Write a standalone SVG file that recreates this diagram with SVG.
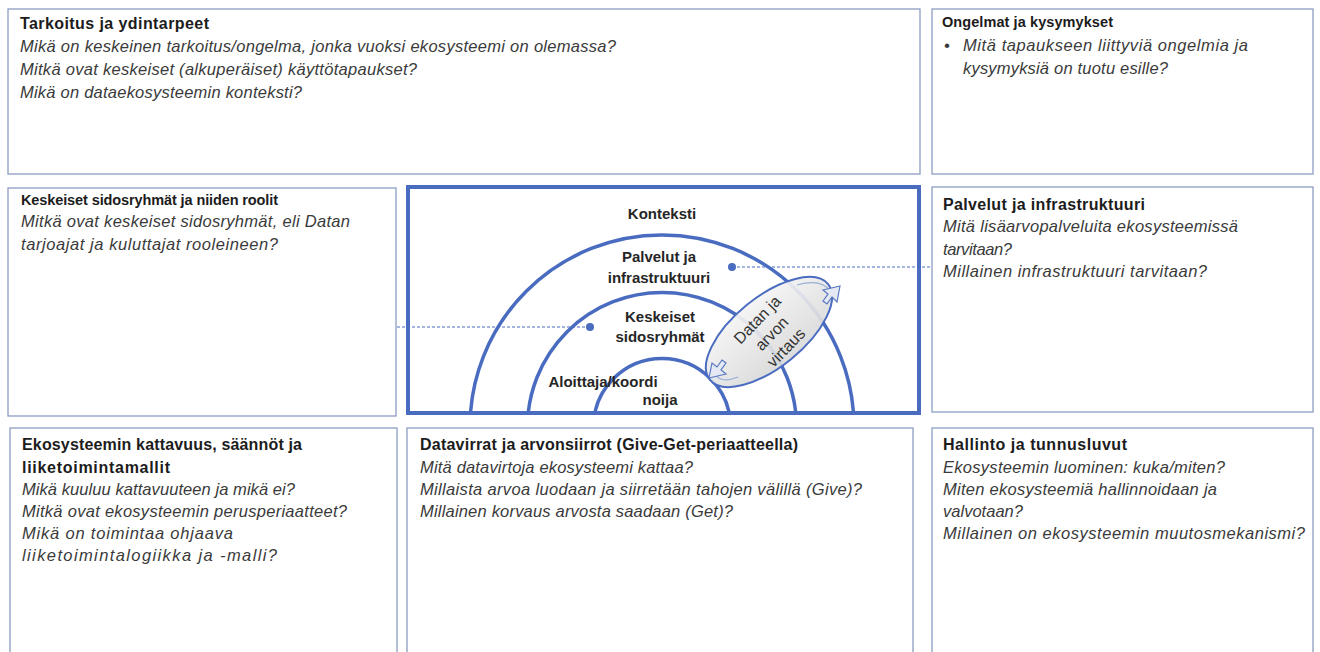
<svg xmlns="http://www.w3.org/2000/svg" width="1320" height="652" viewBox="0 0 1320 652">
  <style>
    .box { fill: #ffffff; stroke: #8e9cc2; stroke-width: 1.3; }
    .core { fill: #ffffff; stroke: #4a6cc0; stroke-width: 4; }
    .ring { fill: none; stroke: #4a6cc0; stroke-width: 3.5; }
    .title { font-family: "Liberation Sans", Arial, sans-serif; font-weight: bold; font-size: 16px; fill: #1c1c1c; }
    .small { font-size: 14.5px; }
    .q { font-family: "Liberation Sans", Arial, sans-serif; font-style: italic; font-size: 16.5px; fill: #3a3a3a; }
    .lbl { font-family: "Liberation Sans", Arial, sans-serif; font-weight: bold; font-size: 15px; fill: #262626; text-anchor: middle; }
    .flow { font-family: "Liberation Sans", Arial, sans-serif; font-size: 16px; fill: #333333; text-anchor: middle; }
    .leader { stroke: #4a6cc0; stroke-width: 1; stroke-dasharray: 3 2; fill: none; }
    .dot { fill: #4a6cc0; }
    .head { fill: #e4e9f4; stroke: #5a78c2; stroke-width: 1.2; }
  </style>
  <defs>
    <clipPath id="coreClip">
      <rect x="410" y="189" width="507" height="222"/>
    </clipPath>
    <linearGradient id="flowFill" x1="0" y1="0" x2="0" y2="1">
      <stop offset="0" stop-color="#f4f4f4"/>
      <stop offset="1" stop-color="#d9d9d9"/>
    </linearGradient>
  </defs>

  <rect width="1320" height="652" fill="#ffffff"/>

  <!-- Purpose and core needs -->
  <g id="tarkoitus">
    <rect class="box" x="8" y="9" width="912" height="165"/>
    <text class="title" x="20" y="29" textLength="189">Tarkoitus ja ydintarpeet</text>
    <text class="q" x="20" y="52" textLength="596">Mikä on keskeinen tarkoitus/ongelma, jonka vuoksi ekosysteemi on olemassa?</text>
    <text class="q" x="20" y="75" textLength="397">Mitkä ovat keskeiset (alkuperäiset) käyttötapaukset?</text>
    <text class="q" x="20" y="98" textLength="282">Mikä on dataekosysteemin konteksti?</text>
  </g>

  <!-- Problems and questions -->
  <g id="ongelmat">
    <rect class="box" x="932" y="9" width="381" height="165"/>
    <text class="title small" x="942" y="27" textLength="171">Ongelmat ja kysymykset</text>
    <text class="q" x="944" y="51" font-style="normal">•</text>
    <text class="q" x="963" y="51" textLength="285">Mitä tapaukseen liittyviä ongelmia ja</text>
    <text class="q" x="963" y="74" textLength="205">kysymyksiä on tuotu esille?</text>
  </g>

  <!-- Key stakeholders -->
  <g id="sidosryhmat">
    <rect class="box" x="8" y="188" width="388" height="228"/>
    <text class="title small" x="21" y="205" textLength="257">Keskeiset sidosryhmät ja niiden roolit</text>
    <text class="q" x="21" y="227" textLength="329">Mitkä ovat keskeiset sidosryhmät, eli Datan</text>
    <text class="q" x="21" y="250" textLength="257">tarjoajat ja kuluttajat rooleineen?</text>
  </g>

  <!-- Services and infrastructure -->
  <g id="palvelut">
    <rect class="box" x="932" y="187" width="381" height="225"/>
    <text class="title" x="943" y="210" textLength="202">Palvelut ja infrastruktuuri</text>
    <text class="q" x="943" y="232" textLength="295">Mitä lisäarvopalveluita ekosysteemissä</text>
    <text class="q" x="943" y="255" textLength="69">tarvitaan?</text>
    <text class="q" x="943" y="277" textLength="264">Millainen infrastruktuuri tarvitaan?</text>
  </g>

  <!-- Coverage, rules and business models -->
  <g id="kattavuus">
    <rect class="box" x="10" y="428" width="387" height="240"/>
    <text class="title" x="22" y="450" textLength="280">Ekosysteemin kattavuus, säännöt ja</text>
    <text class="title" x="22" y="473" textLength="148">liiketoimintamallit</text>
    <text class="q" x="22" y="495" textLength="273">Mikä kuuluu kattavuuteen ja mikä ei?</text>
    <text class="q" x="22" y="517" textLength="325">Mitkä ovat ekosysteemin perusperiaatteet?</text>
    <text class="q" x="22" y="539" textLength="211">Mikä on toimintaa ohjaava</text>
    <text class="q" x="22" y="561" textLength="255">liiketoimintalogiikka ja -malli?</text>
  </g>

  <!-- Data flows and value transfers -->
  <g id="datavirrat">
    <rect class="box" x="407" y="428" width="506" height="240"/>
    <text class="title" x="420" y="450" textLength="378">Datavirrat ja arvonsiirrot (Give-Get-periaatteella)</text>
    <text class="q" x="420" y="473" textLength="273">Mitä datavirtoja ekosysteemi kattaa?</text>
    <text class="q" x="420" y="495" textLength="442">Millaista arvoa luodaan ja siirretään tahojen välillä (Give)?</text>
    <text class="q" x="420" y="517" textLength="313">Millainen korvaus arvosta saadaan (Get)?</text>
  </g>

  <!-- Governance and metrics -->
  <g id="hallinto">
    <rect class="box" x="932" y="428" width="381" height="240"/>
    <text class="title" x="943" y="450" textLength="184">Hallinto ja tunnusluvut</text>
    <text class="q" x="943" y="473" textLength="282">Ekosysteemin luominen: kuka/miten?</text>
    <text class="q" x="943" y="495" textLength="274">Miten ekosysteemiä hallinnoidaan ja</text>
    <text class="q" x="943" y="517" textLength="80">valvotaan?</text>
    <text class="q" x="943" y="539" textLength="362">Millainen on ekosysteemin muutosmekanismi?</text>
  </g>

  <!-- Central ecosystem model: context, rings and flow -->
  <g id="ekosysteemi">
    <rect class="core" x="408" y="187" width="511" height="226"/>
    <g clip-path="url(#coreClip)">
      <path class="ring" d="M470 427 A192 192 0 0 1 854 427"/>
      <path class="ring" d="M527.5 427 A134.5 134.5 0 0 1 796.5 427"/>
      <path class="ring" d="M593.5 427 A68.5 68.5 0 0 1 730.5 427"/>
    </g>
    <text class="lbl" x="662" y="219">Konteksti</text>
    <text class="lbl" x="659" y="262">Palvelut ja</text>
    <text class="lbl" x="659" y="283">infrastruktuuri</text>
    <text class="lbl" x="660" y="322">Keskeiset</text>
    <text class="lbl" x="660" y="342">sidosryhmät</text>
    <text class="lbl" x="603" y="387" text-anchor="start">Aloittaja/koordi</text>
    <text class="lbl" x="660" y="405">noija</text>
  </g>

  <!-- Data and value flow ellipse -->
  <g id="virtaus">
    <ellipse cx="769" cy="332" rx="76" ry="35" transform="rotate(-39 769 332)" fill="url(#flowFill)" fill-opacity="0.92" stroke="#4a6cc0" stroke-width="2"/>
    <path d="M797 285 Q822 278 831 292" fill="none" stroke="#9aaed6" stroke-width="1.2"/>
    <path d="M738 377 Q718 385 713 370" fill="none" stroke="#9aaed6" stroke-width="1.2"/>
    <polygon class="head" points="840,286 837,302 832,297 827,304 823,301 828,294 823,290"/>
    <polygon class="head" points="709,378 712,363 717,367 722,360 726,363 721,370 726,374"/>
    <g transform="translate(772 334) rotate(-46)">
      <text class="flow" x="0" y="-15">Datan ja</text>
      <text class="flow" x="0" y="5">arvon</text>
      <text class="flow" x="0" y="25">virtaus</text>
    </g>
  </g>

  <!-- Leader lines from rings to the explanation boxes -->
  <g id="connectors">
    <line class="leader" x1="732" y1="267" x2="932" y2="267"/>
    <circle class="dot" cx="732" cy="267" r="4"/>
    <line class="leader" x1="590" y1="327" x2="396" y2="327"/>
    <circle class="dot" cx="590" cy="327" r="4"/>
  </g>
</svg>
